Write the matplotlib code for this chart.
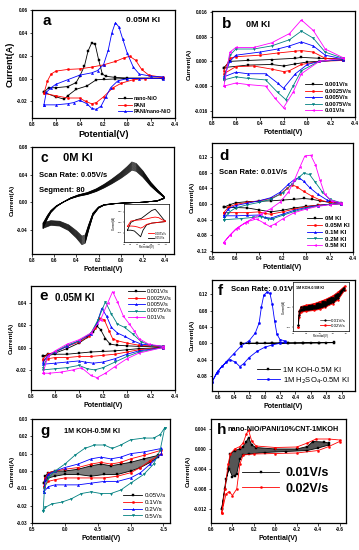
import matplotlib
matplotlib.use("Agg")
import matplotlib.pyplot as plt
import numpy as np

plt.rcParams['font.family'] = ['Liberation Sans', 'DejaVu Sans']

W, H = 359, 550

# ---------------- Panel a ----------------
a_nio_v = [0.70,0.66,0.60,0.50,0.43,0.40,0.36,0.33,0.30,0.27,0.24,0.21,0.18,0.10,0.00,-0.30,
           -0.30,0.00,0.10,0.20,0.26,0.34,0.43,0.50,0.53,0.60,0.70]
a_nio_i = [-0.012,-0.008,-0.008,-0.007,-0.0035,0.002,0.011,0.024,0.031,0.030,0.016,0.004,0.002,0.001,0.0005,0.0005,
           0.0,0.0,-0.0003,-0.0008,-0.001,-0.0065,-0.0094,-0.015,-0.018,-0.016,-0.012]
a_pani_v = [0.70,0.67,0.64,0.60,0.50,0.40,0.30,0.20,0.10,0.03,-0.02,-0.07,-0.12,-0.18,-0.30,
            -0.30,-0.15,-0.05,0.05,0.12,0.20,0.26,0.30,0.35,0.40,0.50,0.60,0.70]
a_pani_i = [-0.013,-0.002,0.004,0.0065,0.008,0.0085,0.010,0.012,0.015,0.018,0.0195,0.016,0.008,0.003,0.001,
            0.0005,0.0,-0.001,-0.004,-0.008,-0.016,-0.021,-0.022,-0.020,-0.017,-0.017,-0.015,-0.013]
a_comp_v = [0.70,0.68,0.64,0.60,0.50,0.40,0.30,0.25,0.20,0.16,0.13,0.10,0.07,0.04,0.00,-0.05,-0.10,-0.20,-0.30,
            -0.30,-0.10,0.00,0.08,0.14,0.18,0.22,0.26,0.30,0.34,0.40,0.45,0.50,0.60,0.70]
a_comp_i = [-0.023,-0.012,-0.008,-0.005,-0.001,0.003,0.005,0.007,0.012,0.025,0.040,0.049,0.045,0.035,0.022,0.010,0.004,0.002,0.0015,
            0.0,0.0,0.0,-0.002,-0.008,-0.016,-0.024,-0.027,-0.026,-0.022,-0.019,-0.021,-0.022,-0.023,-0.023]
a_labels = ['nano-NiO', 'PANI', 'PANI/nano-NiO']

# ---------------- Panel b ----------------
b_labels = ['0.001V/s', '0.0025V/s', '0.005V/s', '0.0075V/s', '0.01V/s']
b1_v = [0.70,0.65,0.50,0.30,0.10,0.05,-0.10,-0.30, -0.30,0.00,0.10,0.20,0.30,0.50,0.70]
b1_i = [-0.002,0.000,0.0003,0.0006,0.001,0.0013,0.001,0.0008, 0.0005,-0.0002,-0.0008,-0.0015,-0.001,-0.0012,-0.002]
b2_v = [0.70,0.65,0.60,0.40,0.25,0.10,0.05,-0.05,-0.15,-0.30, -0.30,-0.10,0.05,0.15,0.20,0.30,0.45,0.60,0.70]
b2_i = [-0.003,0.001,0.0015,0.002,0.0027,0.0033,0.0035,0.003,0.001,0.0005, 0.0003,0.0,-0.001,-0.003,-0.0033,-0.0025,-0.0015,-0.0017,-0.004]
b3_v = [0.70,0.65,0.60,0.40,0.25,0.15,0.05,-0.05,-0.15,-0.30, -0.30,-0.10,0.00,0.10,0.20,0.25,0.35,0.50,0.60,0.70]
b3_i = [-0.005,0.000,0.002,0.003,0.004,0.005,0.0063,0.005,0.002,0.0008, 0.0005,0.0,-0.001,-0.004,-0.0087,-0.007,-0.004,-0.004,-0.0035,-0.005]
b4_v = [0.70,0.65,0.60,0.45,0.30,0.15,0.05,-0.05,-0.15,-0.30, -0.30,-0.10,0.05,0.12,0.18,0.25,0.35,0.50,0.60,0.70]
b4_i = [-0.006,0.002,0.004,0.004,0.005,0.007,0.0098,0.0075,0.003,0.001, 0.0008,0.0,-0.003,-0.008,-0.0124,-0.010,-0.006,-0.0055,-0.005,-0.006]
b5_v = [0.70,0.65,0.60,0.45,0.30,0.15,0.05,-0.05,-0.15,-0.30, -0.30,-0.10,0.05,0.12,0.20,0.27,0.35,0.50,0.60,0.70]
b5_i = [-0.008,0.003,0.0045,0.0045,0.006,0.009,0.0134,0.010,0.004,0.0012, 0.001,0.0,-0.004,-0.010,-0.015,-0.012,-0.008,-0.0075,-0.007,-0.008]

# ---------------- Panel c ----------------
c_v = [0.70,0.66,0.63,0.58,0.52,0.45,0.38,0.30,0.22,0.15,0.08,0.00,-0.06,-0.10,-0.14,-0.20,-0.27,-0.33,-0.39,
       -0.39,-0.33,-0.20,-0.05,0.05,0.15,0.20,0.25,0.29,0.32,0.35,0.40,0.47,0.55,0.63,0.70]
c_i = [-0.035,-0.022,-0.014,-0.006,0.000,0.006,0.010,0.013,0.018,0.024,0.031,0.040,0.048,0.054,0.052,0.042,0.027,0.017,0.008,
       0.006,0.002,0.000,-0.001,-0.002,-0.004,-0.008,-0.018,-0.038,-0.055,-0.057,-0.048,-0.038,-0.032,-0.031,-0.035]
c_cycle_scale = [0.86, 0.88, 0.90, 0.92, 0.94, 0.96, 0.98, 1.00, 1.02, 1.04, 1.06, 1.08]
ci_black_v = [0.70,0.60,0.45,0.30,0.15,0.00,-0.10,-0.20,-0.35,-0.40, -0.40,-0.20,0.00,0.15,0.25,0.32,0.40,0.50,0.60,0.70]
ci_black_i = [-0.030,0.000,0.010,0.015,0.030,0.045,0.050,0.035,0.010,0.005, 0.003,0.000,-0.003,-0.010,-0.030,-0.055,-0.045,-0.033,-0.030,-0.030]
ci_red_v = [0.70,0.60,0.45,0.30,0.15,0.00,-0.10,-0.20,-0.30,-0.40, -0.40,-0.20,0.00,0.15,0.25,0.32,0.40,0.50,0.60,0.70]
ci_red_i = [-0.015,0.005,0.008,0.010,0.013,0.018,0.020,0.018,0.010,0.005, 0.003,0.000,-0.003,-0.008,-0.018,-0.022,-0.018,-0.015,-0.014,-0.015]
ci_labels = ['0.005V/s', '0.05V/s']

# ---------------- Panel d ----------------
d_labels = ['0M KI', '0.05M KI', '0.1M KI', '0.2M KI', '0.5M KI']
d1_v = [0.70,0.65,0.60,0.50,0.40,0.30,0.20,0.10,0.02,-0.05,-0.12,-0.20,-0.30, -0.30,-0.20,-0.10,0.00,0.10,0.20,0.30,0.40,0.50,0.60,0.70]
d1_i = [-0.008,-0.002,0.003,0.006,0.007,0.008,0.010,0.012,0.014,0.012,0.008,0.004,0.002, 0.001,-0.001,-0.003,-0.006,-0.010,-0.016,-0.020,-0.015,-0.010,-0.009,-0.008]
d2_v = [0.70,0.66,0.60,0.50,0.40,0.30,0.22,0.16,0.12,0.08,0.02,-0.05,-0.12,-0.20,-0.30, -0.30,-0.20,-0.10,0.00,0.10,0.20,0.30,0.35,0.40,0.50,0.60,0.70]
d2_i = [-0.022,-0.008,-0.001,0.004,0.008,0.014,0.025,0.040,0.049,0.044,0.032,0.020,0.010,0.004,0.002, 0.001,-0.001,-0.003,-0.007,-0.013,-0.020,-0.026,-0.024,-0.020,-0.022,-0.022,-0.022]
d3_v = [0.70,0.66,0.60,0.50,0.40,0.30,0.22,0.15,0.10,0.06,0.02,-0.03,-0.10,-0.18,-0.30, -0.30,-0.20,-0.10,0.00,0.10,0.20,0.30,0.35,0.40,0.50,0.60,0.70]
d3_i = [-0.030,-0.012,-0.004,0.002,0.008,0.016,0.030,0.050,0.062,0.067,0.058,0.042,0.025,0.010,0.002, 0.001,-0.001,-0.004,-0.009,-0.016,-0.026,-0.036,-0.034,-0.028,-0.029,-0.030,-0.030]
d4_v = [0.70,0.66,0.60,0.50,0.40,0.30,0.20,0.12,0.06,0.02,-0.03,-0.08,-0.14,-0.20,-0.30, -0.30,-0.20,-0.10,0.00,0.10,0.20,0.28,0.32,0.38,0.45,0.55,0.70]
d4_i = [-0.040,-0.022,-0.010,-0.002,0.004,0.012,0.028,0.050,0.068,0.078,0.075,0.055,0.030,0.012,0.003, 0.001,-0.001,-0.005,-0.011,-0.019,-0.029,-0.037,-0.038,-0.032,-0.034,-0.037,-0.040]
d5_v = [0.70,0.65,0.60,0.52,0.45,0.38,0.30,0.22,0.15,0.10,0.05,0.01,-0.04,-0.08,-0.12,-0.16,-0.22,-0.30,
        -0.30,-0.20,-0.10,0.00,0.10,0.20,0.26,0.31,0.36,0.42,0.50,0.58,0.65,0.70]
d5_i = [-0.098,-0.080,-0.064,-0.048,-0.036,-0.025,-0.012,0.005,0.030,0.060,0.095,0.122,0.124,0.100,0.060,0.025,0.008,0.003,
        0.001,-0.002,-0.006,-0.013,-0.022,-0.038,-0.050,-0.057,-0.048,-0.038,-0.045,-0.060,-0.080,-0.098]

# ---------------- Panel e ----------------
e_labels = ['0.001V/s', '0.0025V/s', '0.005V/s', '0.0075V/s', '0.01V/s']
e1_v = [0.70,0.66,0.60,0.50,0.40,0.33,0.28,0.25,0.22,0.18,0.14,0.08,0.00,-0.10,-0.30, -0.30,-0.10,0.00,0.10,0.20,0.30,0.40,0.50,0.60,0.66,0.70]
e1_i = [-0.008,-0.006,-0.005,-0.001,0.004,0.009,0.014,0.019,0.016,0.008,0.003,0.002,0.0015,0.001,0.0005, 0.0,-0.001,-0.002,-0.003,-0.0035,-0.004,-0.005,-0.006,-0.006,-0.007,-0.008]
e2_v = [0.70,0.66,0.60,0.50,0.40,0.32,0.27,0.23,0.19,0.15,0.12,0.08,0.00,-0.10,-0.30, -0.30,-0.10,0.00,0.10,0.20,0.30,0.40,0.50,0.60,0.66,0.70]
e2_i = [-0.010,-0.006,-0.004,0.001,0.005,0.010,0.017,0.026,0.025,0.015,0.008,0.006,0.004,0.002,0.001, 0.0,-0.002,-0.004,-0.006,-0.007,-0.008,-0.008,-0.009,-0.009,-0.010,-0.011]
e3_v = [0.70,0.66,0.60,0.50,0.40,0.30,0.25,0.21,0.17,0.13,0.08,0.02,-0.05,-0.12,-0.30, -0.30,-0.10,0.00,0.10,0.20,0.28,0.35,0.40,0.50,0.60,0.70]
e3_i = [-0.013,-0.007,-0.004,0.001,0.006,0.012,0.022,0.035,0.028,0.018,0.013,0.010,0.006,0.003,0.001, 0.0,-0.003,-0.006,-0.010,-0.013,-0.014,-0.013,-0.012,-0.013,-0.014,-0.015]
e4_v = [0.70,0.66,0.60,0.50,0.40,0.30,0.24,0.18,0.13,0.08,0.02,-0.05,-0.12,-0.20,-0.30, -0.30,-0.10,0.00,0.10,0.20,0.27,0.33,0.40,0.50,0.60,0.70]
e4_i = [-0.018,-0.008,-0.004,0.002,0.006,0.013,0.025,0.041,0.030,0.021,0.018,0.012,0.005,0.002,0.001, 0.0,-0.004,-0.008,-0.013,-0.018,-0.020,-0.019,-0.016,-0.018,-0.019,-0.020]
e5_v = [0.70,0.66,0.60,0.50,0.40,0.30,0.22,0.16,0.12,0.08,0.03,-0.02,-0.06,-0.10,-0.18,-0.30,
        -0.30,-0.10,0.00,0.10,0.18,0.25,0.30,0.38,0.45,0.55,0.65,0.70]
e5_i = [-0.023,-0.008,-0.003,0.003,0.007,0.013,0.025,0.040,0.050,0.041,0.028,0.021,0.015,0.008,0.003,0.001,
        0.0,-0.005,-0.010,-0.017,-0.023,-0.027,-0.025,-0.018,-0.020,-0.022,-0.023,-0.023]

# ---------------- Panel f ----------------
f_labels = ['1M KOH-0.5M KI', r'1M H$_2$SO$_4$-0.5M KI']
f_koh_v = [0.30,0.20,0.10,0.00,-0.10,-0.20,-0.30,-0.40,-0.50,-0.60,-0.70,-0.80,-0.90,
           -0.90,-0.70,-0.50,-0.30,-0.10,0.10,0.30]
f_koh_i = [0.000,0.0005,0.0005,0.0006,0.0007,0.0008,0.0009,0.0010,0.0011,0.0012,0.0014,0.0016,0.0020,
           0.0015,0.0008,0.0004,0.0002,0.0,-0.0005,-0.001]
f_acid_v = [0.68,0.60,0.50,0.40,0.30,0.20,0.12,0.07,0.04,0.01,-0.03,-0.07,-0.10,-0.13,-0.16,-0.20,-0.26,
            -0.26,-0.20,-0.10,0.00,0.10,0.20,0.27,0.32,0.38,0.45,0.55,0.62,0.68]
f_acid_i = [-0.095,-0.068,-0.046,-0.026,-0.006,0.006,0.025,0.050,0.090,0.118,0.125,0.122,0.095,0.055,0.022,0.009,0.006,
            0.004,0.000,-0.004,-0.010,-0.020,-0.035,-0.050,-0.057,-0.046,-0.040,-0.056,-0.072,-0.095]
fi_labels = ['0.01V/s', '0.02V/s']
fi1_v = [0.30,0.27,0.20,0.00,-0.30,-0.50,-0.70,-1.00,-1.20,-1.40, -1.40,-1.20,-1.00,-0.70,-0.50,-0.30,0.00,0.20,0.27,0.30]
fi1_i = [-0.009,-0.002,0.000,0.0005,0.001,0.002,0.003,0.005,0.007,0.010, 0.009,0.005,0.003,0.001,0.000,-0.0005,-0.001,-0.0015,-0.004,-0.009]
fi2_v = [0.30,0.27,0.20,0.00,-0.30,-0.50,-0.70,-1.00,-1.20,-1.45, -1.45,-1.20,-1.00,-0.70,-0.50,-0.30,0.00,0.20,0.27,0.30]
fi2_i = [-0.010,-0.002,0.0005,0.0012,0.002,0.003,0.004,0.006,0.008,0.011, 0.009,0.004,0.002,0.000,-0.001,-0.0015,-0.002,-0.0025,-0.005,-0.010]

# ---------------- Panel g ----------------
g_labels = ['0.05V/s', '0.1V/s', '0.2V/s', '0.5V/s']
g1_v = [0.32,0.30,0.25,0.15,0.00,-0.20,-0.40,-0.55,-0.70,-0.85,-1.00,-1.20,-1.42,
        -1.42,-1.30,-1.15,-1.00,-0.80,-0.60,-0.40,-0.20,0.00,0.15,0.25,0.32]
g1_i = [-0.007,-0.003,-0.001,0.000,0.000,0.001,0.003,0.004,0.003,0.004,0.005,0.007,0.009,
        0.008,0.005,0.002,0.000,-0.002,-0.002,-0.003,-0.002,-0.002,-0.003,-0.004,-0.007]
g2_v = [0.32,0.30,0.25,0.15,0.00,-0.20,-0.40,-0.55,-0.70,-0.85,-1.00,-1.20,-1.47,
        -1.47,-1.30,-1.15,-1.00,-0.80,-0.60,-0.40,-0.20,0.00,0.15,0.25,0.32]
g2_i = [-0.009,-0.004,-0.001,0.000,0.001,0.002,0.004,0.005,0.004,0.005,0.007,0.009,0.012,
        0.010,0.006,0.002,-0.001,-0.003,-0.004,-0.004,-0.004,-0.004,-0.005,-0.006,-0.009]
g3_v = [0.32,0.30,0.25,0.15,0.00,-0.20,-0.40,-0.55,-0.70,-0.85,-1.00,-1.20,-1.47,
        -1.47,-1.30,-1.15,-1.00,-0.80,-0.60,-0.40,-0.20,0.00,0.15,0.25,0.32]
g3_i = [-0.012,-0.005,-0.002,0.000,0.002,0.004,0.007,0.008,0.007,0.008,0.010,0.011,0.013,
        0.010,0.004,-0.001,-0.004,-0.006,-0.006,-0.007,-0.008,-0.008,-0.008,-0.009,-0.012]
g4_v = [0.33,0.31,0.25,0.15,0.00,-0.15,-0.30,-0.45,-0.60,-0.72,-0.85,-1.00,-1.20,-1.35,-1.45,-1.52,
        -1.52,-1.45,-1.35,-1.20,-1.00,-0.85,-0.70,-0.55,-0.40,-0.25,-0.10,0.05,0.20,0.30,0.33]
g4_i = [-0.023,-0.010,-0.004,0.000,0.004,0.009,0.013,0.015,0.015,0.013,0.015,0.018,0.019,0.019,0.021,0.025,
        0.025,0.012,0.004,-0.002,-0.007,-0.011,-0.013,-0.013,-0.012,-0.013,-0.016,-0.018,-0.019,-0.021,-0.023]

# ---------------- Panel h ----------------
h_labels = ['0.01V/s', '0.02V/s']
h1_v = [0.50,0.47,0.44,0.42,0.38,0.33,0.30,0.27,0.25,0.22,0.18,0.00,-0.20,-0.30,-0.35,-0.45,-0.50,
        -0.50,-0.40,-0.30,-0.10,0.10,0.25,0.30,0.33,0.36,0.38,0.40,0.43,0.46,0.50]
h1_i = [-0.012,-0.008,-0.004,-0.001,-0.0003,0.000,0.0005,0.0015,0.0023,0.0008,0.0003,0.000,0.000,0.0005,0.0015,0.0014,0.0012,
        0.0008,0.0002,-0.0003,-0.0005,-0.0007,-0.001,-0.0012,-0.002,-0.005,-0.0053,-0.0055,-0.004,-0.006,-0.012]
h2_v = [0.50,0.47,0.44,0.42,0.38,0.33,0.30,0.27,0.25,0.22,0.18,0.00,-0.20,-0.30,-0.38,-0.50,-0.60,
        -0.60,-0.50,-0.40,-0.20,0.00,0.20,0.30,0.33,0.36,0.40,0.43,0.46,0.50]
h2_i = [-0.0128,-0.008,-0.003,-0.001,0.000,0.0005,0.0012,0.003,0.0038,0.0016,0.0006,0.0003,0.0004,0.0012,0.002,0.002,0.0018,
        0.0015,0.0005,-0.0003,-0.0008,-0.0009,-0.001,-0.0012,-0.003,-0.008,-0.0093,-0.0085,-0.009,-0.0128]

# ======================================================
fig = plt.figure(figsize=(W / 100, H / 100), dpi=100)

def mkax(x0, y0, x1, y1):
    return fig.add_axes([x0 / W, 1 - y1 / H, (x1 - x0) / W, (y1 - y0) / H])

TICK_FS = 3.3
def style(ax, xlim, ylim, xticks, yticks, xfmt, yfmt, xlab_fs=5.0, ylab_fs=5.0):
    ax.set_xlim(*xlim)
    ax.set_ylim(*ylim)
    ax.set_xticks(xticks)
    ax.set_yticks(yticks)
    ax.set_xticklabels([xfmt.format(t) for t in xticks], fontsize=TICK_FS, fontweight='bold')
    ax.set_yticklabels([yfmt.format(t) for t in yticks], fontsize=TICK_FS, fontweight='bold')
    ax.tick_params(direction='out', length=1.8, width=0.5, pad=1.2)
    for s in ax.spines.values():
        s.set_linewidth(0.9)
    ax.set_xlabel('Potential(V)', fontsize=xlab_fs, fontweight='bold', labelpad=2)
    ax.set_ylabel('Current(A)', fontsize=ylab_fs, fontweight='bold', labelpad=2)

def loop(ax, v, i, color, marker, label=None, ms=1.6, lw=0.6, mfc=None):
    ax.plot(v, i, color=color, marker=marker, ms=ms, lw=lw, label=label,
            mfc=mfc if mfc else color, mec=color, mew=0.3)

five_cols = ['black', 'red', 'blue', '#008080', 'magenta']
five_mk = ['s', 'o', '^', 'v', '<']

# ---- a ----
ax = mkax(32, 10, 175, 118)
loop(ax, a_nio_v, a_nio_i, 'black', 's', a_labels[0])
loop(ax, a_pani_v, a_pani_i, 'red', 'o', a_labels[1])
loop(ax, a_comp_v, a_comp_i, 'blue', '^', a_labels[2])
style(ax, (0.8, -0.4), (-0.0345, 0.06), [0.8, 0.6, 0.4, 0.2, 0.0, -0.2, -0.4],
      [-0.02, 0.0, 0.02, 0.04, 0.06], '{:.1f}', '{:.2f}', xlab_fs=6.5, ylab_fs=6.5)
ax.text(0.07, 0.9, 'a', transform=ax.transAxes, fontsize=11, fontweight='bold', va='center')
ax.text(0.66, 0.9, '0.05M KI', transform=ax.transAxes, fontsize=6, fontweight='bold', va='center')
ax.legend(loc='lower right', frameon=False, handlelength=2.5, borderpad=0.2,
          labelspacing=0.3, handletextpad=0.4, prop={'weight': 'bold', 'size': 3.8})

# ---- b ----
ax = mkax(212, 11, 355, 117)
for k, (v, i) in enumerate([(b1_v, b1_i), (b2_v, b2_i), (b3_v, b3_i), (b4_v, b4_i), (b5_v, b5_i)]):
    loop(ax, v, i, five_cols[k], five_mk[k], b_labels[k])
style(ax, (0.8, -0.4), (-0.018, 0.0163), [0.8, 0.6, 0.4, 0.2, 0.0, -0.2, -0.4],
      [-0.016, -0.008, 0.0, 0.008, 0.016], '{:.1f}', '{:.3f}', xlab_fs=5, ylab_fs=4.5)
ax.text(0.07, 0.88, 'b', transform=ax.transAxes, fontsize=11, fontweight='bold', va='center')
ax.text(0.24, 0.87, '0M KI', transform=ax.transAxes, fontsize=6.5, fontweight='bold', va='center')
ax.legend(loc='lower right', frameon=False, handlelength=3, borderpad=0.1,
          labelspacing=0.25, handletextpad=0.4, prop={'weight': 'bold', 'size': 4.2})

# ---- c ----
ax = mkax(32, 147, 174, 254)
c_arr_i = np.array(c_i)
for s in c_cycle_scale:
    ax.plot(c_v, c_arr_i * s, color='black', lw=0.5, alpha=0.85)
style(ax, (0.8, -0.48), (-0.075, 0.08), [0.8, 0.6, 0.4, 0.2, 0.0, -0.2, -0.4],
      [-0.04, 0.0, 0.04, 0.08], '{:.1f}', '{:.2f}', xlab_fs=5, ylab_fs=4.5)
ax.text(0.06, 0.9, 'c', transform=ax.transAxes, fontsize=10, fontweight='bold', va='center')
ax.text(0.22, 0.9, '0M KI', transform=ax.transAxes, fontsize=8, fontweight='bold', va='center')
ax.text(0.05, 0.73, 'Scan Rate: 0.05V/s', transform=ax.transAxes, fontsize=5.5, fontweight='bold', va='center')
ax.text(0.05, 0.59, 'Segment: 80', transform=ax.transAxes, fontsize=5.5, fontweight='bold', va='center')
axi = mkax(124, 204, 169, 242)
axi.plot(ci_black_v, ci_black_i, color='black', lw=0.6, label=ci_labels[1])
axi.plot(ci_red_v, ci_red_i, color='red', lw=0.6, label=ci_labels[0])
axi.set_xlim(0.8, -0.5)
axi.set_ylim(-0.075, 0.07)
axi.set_xticks([0.8, 0.6, 0.4, 0.2, 0.0, -0.2, -0.4])
axi.set_yticks([-0.04, 0.0, 0.04])
axi.set_xticklabels(['0.8', '0.6', '0.4', '0.2', '0.0', '-0.2', '-0.4'], fontsize=1.6)
axi.set_yticklabels(['-0.04', '0.00', '0.04'], fontsize=1.6)
axi.tick_params(length=0.8, width=0.3, pad=0.5)
for s in axi.spines.values():
    s.set_linewidth(0.5)
axi.set_xlabel('Potential(V)', fontsize=2.2, labelpad=0.5)
axi.set_ylabel('Current(A)', fontsize=2.2, labelpad=0.5)
h_, l_ = axi.get_legend_handles_labels()
axi.legend(h_[::-1], l_[::-1], loc='lower right', frameon=False, fontsize=2.2, handlelength=2,
           borderpad=0.1, labelspacing=0.2, handletextpad=0.3)

# ---- d ----
ax = mkax(212, 143, 353, 252)
for k, (v, i) in enumerate([(d1_v, d1_i), (d2_v, d2_i), (d3_v, d3_i), (d4_v, d4_i), (d5_v, d5_i)]):
    loop(ax, v, i, five_cols[k], five_mk[k], d_labels[k])
style(ax, (0.8, -0.4), (-0.122, 0.155), [0.8, 0.6, 0.4, 0.2, 0.0, -0.2, -0.4],
      [-0.12, -0.08, -0.04, 0.0, 0.04, 0.08, 0.12], '{:.1f}', '{:.2f}', xlab_fs=5, ylab_fs=4.5)
ax.text(0.05, 0.88, 'd', transform=ax.transAxes, fontsize=11, fontweight='bold', va='center')
ax.text(0.05, 0.73, 'Scan Rate: 0.01V/s', transform=ax.transAxes, fontsize=5.5, fontweight='bold', va='center')
ax.legend(loc='lower right', frameon=False, handlelength=2.5, borderpad=0.1,
          labelspacing=0.25, handletextpad=0.4, prop={'weight': 'bold', 'size': 4.4})

# ---- e ----
ax = mkax(31, 286, 175, 390)
for k, (v, i) in enumerate([(e1_v, e1_i), (e2_v, e2_i), (e3_v, e3_i), (e4_v, e4_i), (e5_v, e5_i)]):
    loop(ax, v, i, five_cols[k], five_mk[k], e_labels[k])
style(ax, (0.8, -0.4), (-0.038, 0.055), [0.8, 0.6, 0.4, 0.2, 0.0, -0.2, -0.4],
      [-0.02, 0.0, 0.02, 0.04], '{:.1f}', '{:.2f}', xlab_fs=5, ylab_fs=4.5)
ax.text(0.06, 0.9, 'e', transform=ax.transAxes, fontsize=11, fontweight='bold', va='center')
ax.text(0.17, 0.88, '0.05M KI', transform=ax.transAxes, fontsize=7, fontweight='bold', va='center')
ax.legend(loc='upper right', frameon=False, handlelength=3, borderpad=0.1,
          labelspacing=0.25, handletextpad=0.4, prop={'size': 4.0})

# ---- f ----
ax = mkax(212, 280, 355, 391)
loop(ax, f_koh_v, f_koh_i, 'black', 's', f_labels[0])
loop(ax, f_acid_v, f_acid_i, 'blue', 'o', f_labels[1])
style(ax, (0.68, -1.17), (-0.117, 0.155), [0.6, 0.4, 0.2, 0.0, -0.2, -0.4, -0.6, -0.8, -1.0],
      [-0.08, -0.04, 0.0, 0.04, 0.08, 0.12], '{:.1f}', '{:.2f}', xlab_fs=5, ylab_fs=4.5)
ax.text(0.04, 0.9, 'f', transform=ax.transAxes, fontsize=11, fontweight='bold', va='center')
ax.text(0.13, 0.91, 'Scan Rate: 0.01V/s', transform=ax.transAxes, fontsize=5.5, fontweight='bold', va='center')
ax.legend(loc='lower right', frameon=False, handlelength=3, borderpad=0.2,
          labelspacing=0.2, handletextpad=0.4, prop={'size': 5.5})
axi = mkax(293, 282, 349, 331)
axi.fill(fi2_v, fi2_i, color='black', lw=0)
axi.plot(fi2_v, fi2_i, color='red', marker='o', ms=0.8, lw=0.6, label=fi_labels[1])
axi.plot(fi1_v, fi1_i, color='black', marker='s', ms=0.6, lw=0.4, label=fi_labels[0])
axi.set_xlim(0.5, -1.6)
axi.set_ylim(-0.012, 0.013)
axi.set_xticks([0.5, 0.0, -0.5, -1.0, -1.5])
axi.set_yticks([-0.01, 0.0, 0.01])
axi.set_xticklabels(['0.5', '0.0', '-0.5', '-1.0', '-1.5'], fontsize=1.6)
axi.set_yticklabels(['-0.01', '0.00', '0.01'], fontsize=1.6)
axi.tick_params(length=0.8, width=0.3, pad=0.5)
for s in axi.spines.values():
    s.set_linewidth(0.5)
axi.set_xlabel('Potential(V)', fontsize=2.2, labelpad=0.5)
axi.set_ylabel('Current(A)', fontsize=2.2, labelpad=0.5)
axi.text(0.06, 0.88, '1M KOH-0.5M KI', transform=axi.transAxes, fontsize=2.6, fontweight='bold', va='center')
h_, l_ = axi.get_legend_handles_labels()
axi.legend(h_[::-1], l_[::-1], loc='lower right', frameon=False, fontsize=3.2, handlelength=2.2,
           borderpad=0.2, labelspacing=0.2, handletextpad=0.3)

# ---- g ----
ax = mkax(32, 419, 170, 523)
ax.fill(g1_v, g1_i, color='#808080', lw=0)
for k, (v, i) in enumerate([(g1_v, g1_i), (g2_v, g2_i), (g3_v, g3_i), (g4_v, g4_i)]):
    loop(ax, v, i, five_cols[k], five_mk[k], g_labels[k])
style(ax, (0.5, -1.6), (-0.03, 0.03), [0.5, 0.0, -0.5, -1.0, -1.5],
      [-0.03, -0.02, -0.01, 0.0, 0.01, 0.02, 0.03], '{:.1f}', '{:.2f}', xlab_fs=5, ylab_fs=4.5)
ax.text(0.06, 0.88, 'g', transform=ax.transAxes, fontsize=11, fontweight='bold', va='center')
ax.text(0.23, 0.88, '1M KOH-0.5M KI', transform=ax.transAxes, fontsize=5.2, fontweight='bold', va='center')
ax.legend(loc='lower right', frameon=False, handlelength=3, borderpad=0.2,
          labelspacing=0.25, handletextpad=0.4, prop={'size': 4.5})

# ---- h ----
ax = mkax(211, 419, 346, 523)
ax.fill(h1_v, h1_i, color='#555555', lw=0)
loop(ax, h1_v, h1_i, 'black', 's', h_labels[0], ms=1.5)
loop(ax, h2_v, h2_i, 'red', 'o', h_labels[1], ms=1.5)
style(ax, (0.575, -0.66), (-0.0148, 0.006), [0.6, 0.4, 0.2, 0.0, -0.2, -0.4, -0.6],
      [-0.012, -0.008, -0.004, 0.0, 0.004], '{:.1f}', '{:.3f}', xlab_fs=5, ylab_fs=4.5)
ax.text(0.04, 0.89, 'h', transform=ax.transAxes, fontsize=11, fontweight='bold', va='center')
ax.text(0.12, 0.9, 'nano-NiO/PANI/10%CNT-1MKOH', transform=ax.transAxes, fontsize=5.2,
        fontweight='bold', va='center')
ax.legend(loc='lower right', bbox_to_anchor=(0.93, 0.2), frameon=False, handlelength=3, borderpad=0.1,
          labelspacing=0.3, handletextpad=0.5, prop={'size': 9, 'weight': 'bold'})

fig.savefig('out.png', dpi=100)
